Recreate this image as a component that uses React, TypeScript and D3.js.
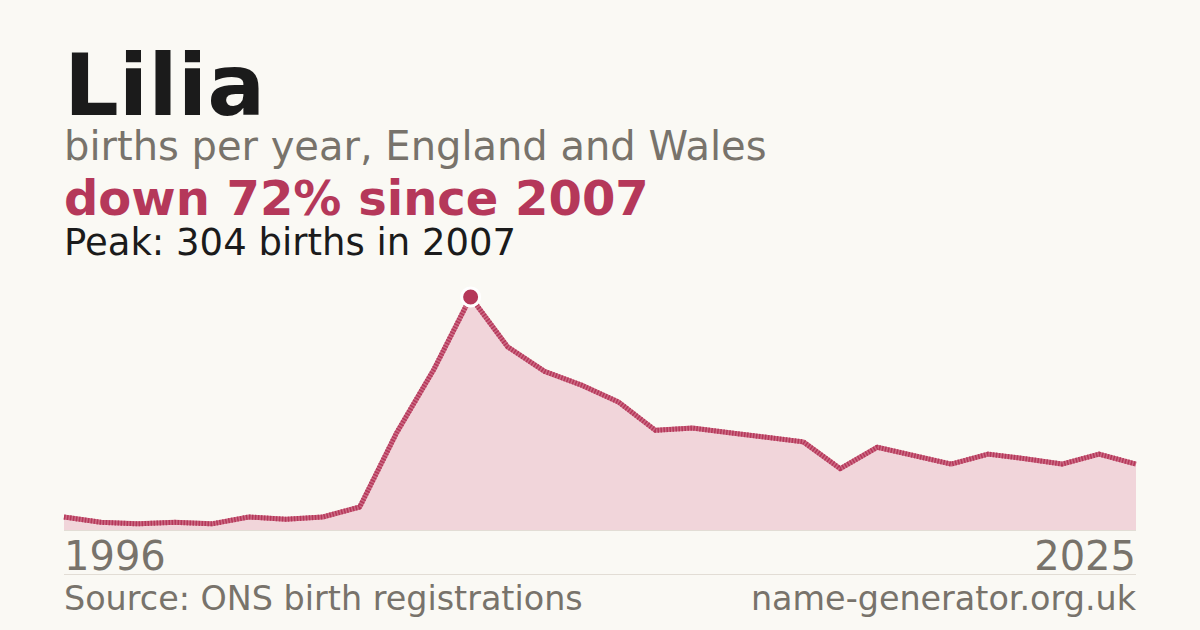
import { useEffect, useRef } from 'react';
import * as d3 from 'd3';

const years = d3.range(1996, 2026);
const births = [
  17, 10, 8, 10, 8, 17, 14, 17, 30, 127,
  209, 304, 239, 207, 189, 167, 130, 133, 127, 121,
  115, 80, 108, 97, 86, 99, 93, 86, 99, 86,
];

const title = 'Lilia';
const subtitle = 'births per year, England and Wales';
const headline = 'down 72% since 2007';
const peakNote = 'Peak: 304 births in 2007';
const source = 'Source: ONS birth registrations';
const site = 'name-generator.org.uk';

const W = 1200;
const H = 630;
const ACCENT = '#b5385a';
const GREY = '#78736b';

export default function App() {
  const svgRef = useRef<SVGSVGElement>(null);

  useEffect(() => {
    if (!svgRef.current) return;
    const svg = d3.select(svgRef.current);
    svg.selectAll('*').remove();

    const left = 64;
    const right = 1136;
    const base = 530;

    svg.append('rect').attr('width', W).attr('height', H).attr('fill', '#faf9f4');

    const x = d3.scaleLinear().domain([years[0], years[years.length - 1]]).range([left, right]);
    const y = d3.scaleLinear().domain([0, d3.max(births)!]).range([base, 297]);

    const pts = years.map((yr, i) => [yr, births[i]] as [number, number]);

    const area = d3.area<[number, number]>()
      .x(d => x(d[0]))
      .y0(base)
      .y1(d => y(d[1]));

    const line = d3.line<[number, number]>()
      .x(d => x(d[0]))
      .y(d => y(d[1]));

    svg.append('path').attr('d', area(pts)!).attr('fill', '#f1d5da');

    svg.append('line')
      .attr('x1', left).attr('x2', right)
      .attr('y1', base + 0.5).attr('y2', base + 0.5)
      .attr('stroke', '#e2ddd5').attr('stroke-width', 1);

    // stripy stroke: light base + fine dashes on top
    svg.append('path').attr('d', line(pts)!)
      .attr('fill', 'none')
      .attr('stroke', '#cc6a84')
      .attr('stroke-width', 5)
      .attr('stroke-linejoin', 'round');
    svg.append('path').attr('d', line(pts)!)
      .attr('fill', 'none')
      .attr('stroke', ACCENT)
      .attr('stroke-width', 5)
      .attr('stroke-dasharray', '1.5 1.5')
      .attr('stroke-linejoin', 'round');

    // peak marker
    const peakIdx = births.indexOf(d3.max(births)!);
    svg.append('circle')
      .attr('cx', x(years[peakIdx]))
      .attr('cy', y(births[peakIdx]))
      .attr('r', 9)
      .attr('fill', ACCENT)
      .attr('stroke', '#ffffff')
      .attr('stroke-width', 3);

    const font = '"DejaVu Sans", sans-serif';

    svg.append('text').attr('x', left).attr('y', 115)
      .attr('font-family', font).attr('font-size', 86).attr('font-weight', 'bold')
      .attr('fill', '#1b1b1b').text(title);

    svg.append('text').attr('x', left).attr('y', 160)
      .attr('font-family', font).attr('font-size', 40)
      .attr('fill', GREY).text(subtitle);

    svg.append('text').attr('x', left).attr('y', 215)
      .attr('font-family', font).attr('font-size', 48).attr('font-weight', 'bold')
      .attr('fill', ACCENT).text(headline);

    svg.append('text').attr('x', left).attr('y', 255)
      .attr('font-family', font).attr('font-size', 37)
      .attr('fill', '#1b1b1b').text(peakNote);

    svg.append('text').attr('x', left).attr('y', 570)
      .attr('font-family', font).attr('font-size', 40)
      .attr('fill', GREY).text(String(years[0]));

    svg.append('text').attr('x', right).attr('y', 570)
      .attr('text-anchor', 'end')
      .attr('font-family', font).attr('font-size', 40)
      .attr('fill', GREY).text(String(years[years.length - 1]));

    svg.append('line')
      .attr('x1', left).attr('x2', right)
      .attr('y1', 574.5).attr('y2', 574.5)
      .attr('stroke', '#e2ddd5').attr('stroke-width', 1);

    svg.append('text').attr('x', left).attr('y', 610)
      .attr('font-family', font).attr('font-size', 33.4)
      .attr('fill', GREY).text(source);

    svg.append('text').attr('x', right).attr('y', 610)
      .attr('text-anchor', 'end')
      .attr('font-family', font).attr('font-size', 33.4)
      .attr('fill', GREY).text(site);
  }, []);

  return (
    <svg
      ref={svgRef}
      width={W}
      height={H}
      viewBox={`0 0 ${W} ${H}`}
      style={{ position: 'absolute', left: 0, top: 0, display: 'block' }}
    />
  );
}
